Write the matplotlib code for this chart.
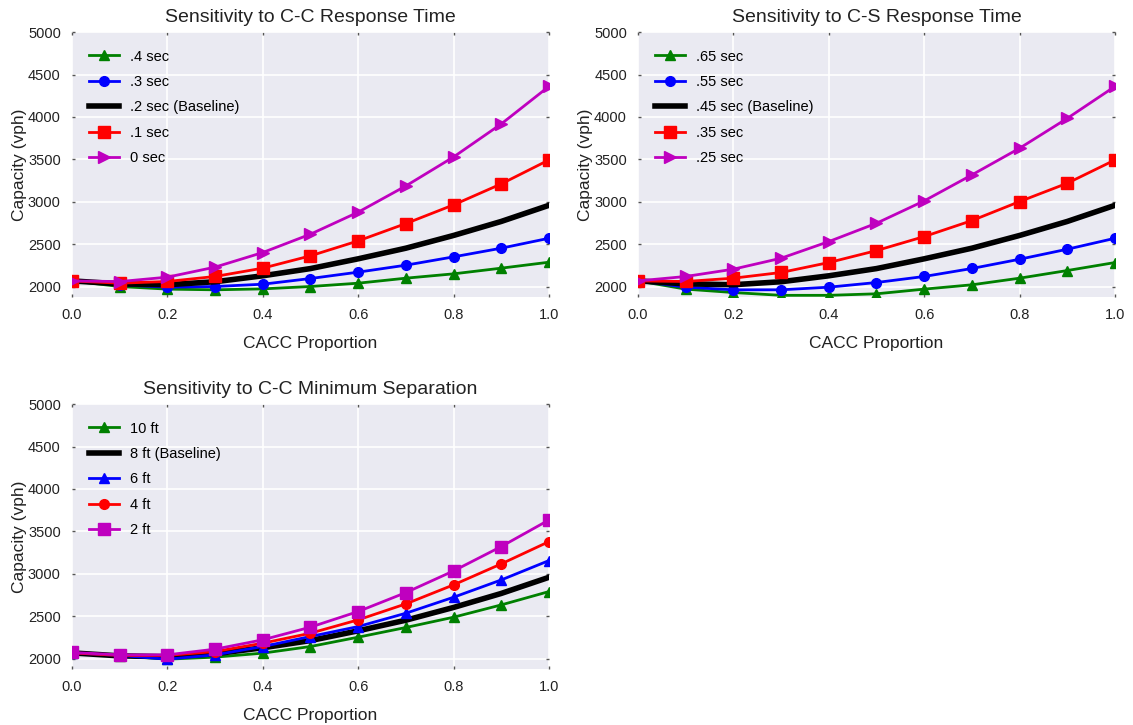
import numpy as np
import matplotlib.pyplot as plt

plt.rcParams['font.family'] = ['Liberation Sans', 'DejaVu Sans']

prop = [0.0, 0.1, 0.2, 0.3, 0.4, 0.5, 0.6, 0.7, 0.8, 0.9, 1.0]

baseline = [2070, 2035, 2025, 2060, 2130, 2215, 2330, 2455, 2605, 2770, 2960]

# C-C response time
cc_04 = [2070, 2004, 1973, 1965, 1976, 2004, 2043, 2102, 2153, 2220, 2290]
cc_03 = [2070, 2024, 1996, 2004, 2031, 2098, 2173, 2255, 2353, 2455, 2572]
cc_01 = [2070, 2043, 2063, 2122, 2220, 2365, 2541, 2745, 2965, 3212, 3494]
cc_00 = [2070, 2062, 2114, 2232, 2404, 2620, 2879, 3188, 3529, 3918, 4360]

# C-S response time
cs_065 = [2070, 1973, 1933, 1900, 1900, 1918, 1973, 2024, 2102, 2192, 2286]
cs_055 = [2070, 1996, 1965, 1965, 1996, 2051, 2122, 2216, 2325, 2443, 2572]
cs_035 = [2070, 2063, 2102, 2169, 2286, 2427, 2592, 2780, 3004, 3220, 3494]
cs_025 = [2070, 2122, 2208, 2337, 2533, 2749, 3012, 3318, 3632, 3984, 4360]

# C-C minimum separation
ms_10 = [2070, 2035, 1996, 2020, 2067, 2145, 2255, 2369, 2490, 2635, 2792]
ms_6 = [2070, 2040, 1996, 2047, 2145, 2263, 2380, 2537, 2725, 2929, 3157]
ms_4 = [2070, 2040, 2040, 2086, 2184, 2302, 2459, 2647, 2871, 3118, 3380]
ms_2 = [2075, 2047, 2047, 2114, 2224, 2373, 2557, 2780, 3035, 3322, 3635]

fig = plt.figure(figsize=(11.33, 7.25), dpi=100)
ax1 = fig.add_axes([0.0635, 0.5903, 0.4210, 0.3655])
ax2 = fig.add_axes([0.5631, 0.5903, 0.4210, 0.3655])
ax3 = fig.add_axes([0.0635, 0.0772, 0.4210, 0.3655])


def style(ax, title):
    ax.set_facecolor('#EAEAF2')
    for s in ax.spines.values():
        s.set_visible(False)
    ax.grid(True, color='white', linewidth=1.2)
    ax.set_axisbelow(True)
    ax.set_xlim(0, 1)
    ax.set_ylim(1880, 5000)
    ax.set_xticks([0.0, 0.2, 0.4, 0.6, 0.8, 1.0])
    ax.set_yticks([2000, 2500, 3000, 3500, 4000, 4500, 5000])
    ax.tick_params(direction='in', length=2, width=1, color='#555555',
                   labelsize=10.5, labelcolor='#222222', pad=8,
                   top=True, right=True)
    ax.set_title(title, fontsize=14, color='#222222', pad=7)
    ax.set_xlabel('CACC Proportion', fontsize=12.5, color='#222222', labelpad=10)
    ax.set_ylabel('Capacity (vph)', fontsize=12.5, color='#222222', labelpad=1)
    ax.legend(loc='upper left', frameon=False, fontsize=10.5,
              handlelength=2.05, handletextpad=0.7,
              labelspacing=0.78, borderaxespad=0.8)


ax1.plot(prop, cc_04, color='green', marker='^', ms=7.5, lw=2, label='.4 sec')
ax1.plot(prop, cc_03, color='blue', marker='o', ms=7, lw=2, label='.3 sec')
ax1.plot(prop, baseline, color='black', lw=4, label='.2 sec (Baseline)')
ax1.plot(prop, cc_01, color='red', marker='s', ms=8, lw=2, label='.1 sec')
ax1.plot(prop, cc_00, color='m', marker='>', ms=8, lw=2, label='0 sec')
style(ax1, 'Sensitivity to C-C Response Time')

ax2.plot(prop, cs_065, color='green', marker='^', ms=7.5, lw=2, label='.65 sec')
ax2.plot(prop, cs_055, color='blue', marker='o', ms=7, lw=2, label='.55 sec')
ax2.plot(prop, baseline, color='black', lw=4, label='.45 sec (Baseline)')
ax2.plot(prop, cs_035, color='red', marker='s', ms=8, lw=2, label='.35 sec')
ax2.plot(prop, cs_025, color='m', marker='>', ms=8, lw=2, label='.25 sec')
style(ax2, 'Sensitivity to C-S Response Time')

ax3.plot(prop, ms_10, color='green', marker='^', ms=7, lw=2, label='10 ft')
ax3.plot(prop, baseline, color='black', lw=4, label='8 ft (Baseline)')
ax3.plot(prop, ms_6, color='blue', marker='^', ms=7, lw=2, label='6 ft')
ax3.plot(prop, ms_4, color='red', marker='o', ms=7, lw=2, label='4 ft')
ax3.plot(prop, ms_2, color='m', marker='s', ms=8, lw=2, label='2 ft')
style(ax3, 'Sensitivity to C-C Minimum Separation')

fig.savefig('out.png', dpi=100)
